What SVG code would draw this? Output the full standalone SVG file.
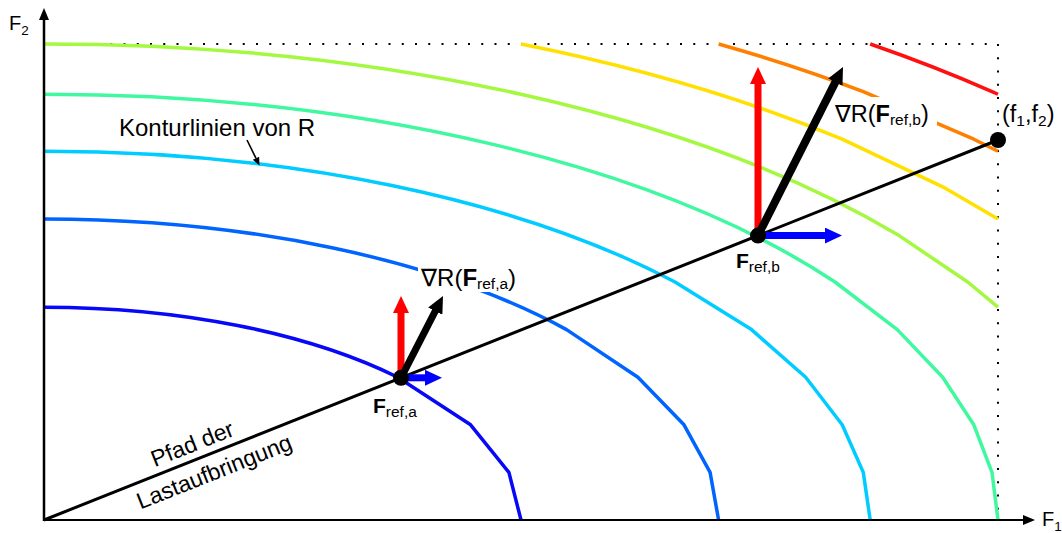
<svg xmlns="http://www.w3.org/2000/svg" width="1062" height="533" viewBox="0 0 1062 533">
<defs>
<style>
.ct{fill:none;stroke-width:3.5;stroke-linejoin:round;stroke-linecap:butt}
.t{font-family:"Liberation Sans",Arial,"DejaVu Sans",sans-serif;fill:#000}
.b{font-weight:bold}
.dot{stroke:#000;stroke-width:2;stroke-dasharray:2 11.25;fill:none}
</style>
<marker id="hr" markerUnits="userSpaceOnUse" viewBox="0 0 17 16" markerWidth="17" markerHeight="16" refX="2" refY="8" orient="auto"><path d="M0,0 L17,8 L0,16 Z" fill="#ff0000"/></marker>
<marker id="hk" markerUnits="userSpaceOnUse" viewBox="0 0 17 16" markerWidth="17" markerHeight="16" refX="2" refY="8" orient="auto"><path d="M0,0 L17,8 L0,16 Z" fill="#000"/></marker>
<marker id="hb" markerUnits="userSpaceOnUse" viewBox="0 0 17 16" markerWidth="17" markerHeight="16" refX="2" refY="8" orient="auto"><path d="M0,0 L17,8 L0,16 Z" fill="#0000ff"/></marker>
</defs>
<rect width="1062" height="533" fill="#fff"/>

<g id="bounds">
<line class="dot" x1="44" y1="44" x2="998" y2="44"/>
<line class="dot" x1="998" y1="44" x2="998" y2="520"/>
</g>

<g id="contours">
<path class="ct" stroke="#0808f8" d="M44,307.13 A477,212.87 0 0 1 397.75,377.2 L470.6,424.8 L508.9,472.4 L521,520"/>
<path class="ct" stroke="#0064ff" d="M44,218.95 A674.58,301.05 0 0 1 566.53,329.6 L637.9,377.2 L684.0,424.8 L710.1,472.4 L718.6,520"/>
<path class="ct" stroke="#00ccff" d="M44,151.29 A826.19,368.71 0 0 1 675.01,282 L751.5,329.6 L805.7,377.2 L842.2,424.8 L863.3,472.4 L870.2,520"/>
<path class="ct" stroke="#40f8a0" d="M44,94.25 A954,425.75 0 0 1 835.02,282 L897.3,329.6 L942.7,377.2 L973.8,424.8 L992.0,472.4 L998,520"/>
<path class="ct" stroke="#a4f840" d="M44,44 A1066.6,476 0 0 1 897.28,234.4 L967.7,282 L998,307.1"/>
<path class="ct" stroke="#ffe000" d="M521,44 A1168.4,521.43 0 0 1 842.17,139.2 L942.7,186.8 L998,218.9"/>
<path class="ct" stroke="#ff8000" d="M718.58,44 A1262.0,563.21 0 0 1 863.28,91.6 L973.8,139.2 L998,151.3"/>
<path class="ct" stroke="#ff1010" d="M870.19,44 A1349.2,602.1 0 0 1 992.02,91.6 L998,94.25"/>
</g>

<g id="label-backgrounds" fill="#fff">
<rect x="418" y="261" width="106" height="31"/>
<rect x="831" y="97" width="106" height="32"/>
</g>

<g id="axes">
<line x1="44" y1="521" x2="44" y2="19" stroke="#000" stroke-width="2.5"/>
<polygon points="44,8 39,20 49,20" fill="#000"/>
<line x1="43" y1="520" x2="1024" y2="520" stroke="#000" stroke-width="2.2"/>
<polygon points="1035,520 1023,515 1023,525" fill="#000"/>
<text class="t" x="9" y="29.5" font-size="20">F<tspan font-size="13.5" dy="5">2</tspan></text>
<text class="t" x="1042" y="526" font-size="20">F<tspan font-size="13.5" dy="5">1</tspan></text>
</g>

<g id="load-path">
<line x1="44" y1="520" x2="998" y2="140" stroke="#000" stroke-width="3"/>
<g transform="translate(44,520) rotate(-21.72)">
<text class="t" x="166" y="-8" font-size="23" text-anchor="middle">Pfad der</text>
<text class="t" x="176" y="26" font-size="23" text-anchor="middle">Lastaufbringung</text>
</g>
</g>

<g id="contour-label">
<text class="t" x="119" y="136" font-size="24">Konturlinien von R</text>
<line x1="247" y1="140" x2="256" y2="158.3" stroke="#000" stroke-width="1.6"/>
<polygon points="259.5,165.5 259.12,156.78 252.84,159.86" fill="#000"/>
</g>

<g id="connectors">
<line x1="401" y1="377.8" x2="401" y2="311" stroke="#ff0000" stroke-width="7" marker-end="url(#hr)"/>
<line x1="401" y1="377.8" x2="436.15" y2="309.34" stroke="#000" stroke-width="7" marker-end="url(#hk)"/>
<line x1="401" y1="377.8" x2="427" y2="377.8" stroke="#0000ff" stroke-width="7" marker-end="url(#hb)"/>
<line x1="758" y1="235.6" x2="758" y2="82" stroke="#ff0000" stroke-width="7" marker-end="url(#hr)"/>
<line x1="758" y1="235.6" x2="836.25" y2="80.4" stroke="#000" stroke-width="8" marker-end="url(#hk)"/>
<line x1="758" y1="235.6" x2="827" y2="235.6" stroke="#0000ff" stroke-width="7" marker-end="url(#hb)"/>
</g>

<g id="node-Fref-a">
<circle cx="401" cy="377.8" r="8" fill="#000"/>
<text class="t" x="373" y="413" font-size="21"><tspan class="b">F</tspan><tspan font-size="15.5" dy="4">ref,a</tspan></text>
<text class="t" x="421" y="286" font-size="24">∇R(<tspan class="b">F</tspan><tspan font-size="15.5" dy="3">ref,a</tspan><tspan dy="-3">)</tspan></text>
</g>

<g id="node-Fref-b">
<circle cx="758" cy="235.6" r="8" fill="#000"/>
<text class="t" x="736" y="268" font-size="21"><tspan class="b">F</tspan><tspan font-size="15.5" dy="4">ref,b</tspan></text>
<text class="t" x="835" y="122" font-size="23.5">∇R(<tspan class="b">F</tspan><tspan font-size="15.5" dy="3">ref,b</tspan><tspan dy="-3">)</tspan></text>
</g>

<g id="node-f1f2">
<circle cx="998" cy="140" r="8" fill="#000"/>
<text class="t" x="1002" y="122" font-size="23.5">(f<tspan font-size="15.5" dy="4">1</tspan><tspan dy="-4">,f</tspan><tspan font-size="15.5" dy="4">2</tspan><tspan dy="-4">)</tspan></text>
</g>
</svg>
